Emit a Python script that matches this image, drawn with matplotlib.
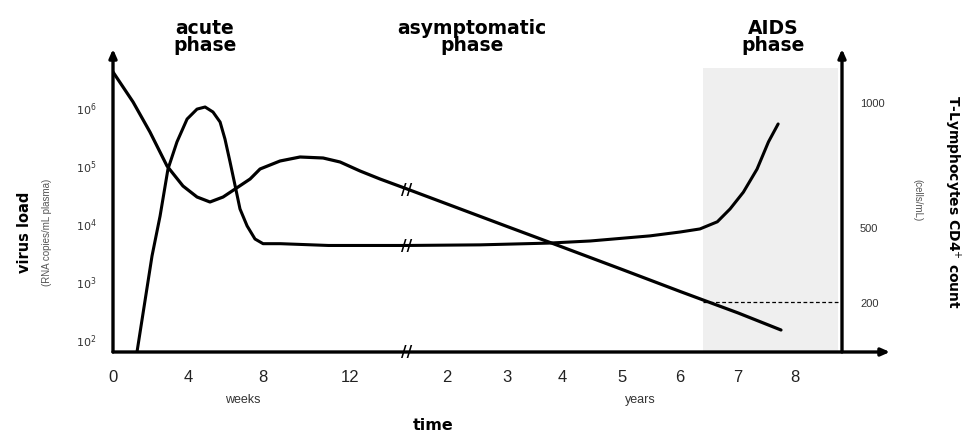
import numpy as np
import matplotlib
matplotlib.use("Agg")
import matplotlib.pyplot as plt
import matplotlib.transforms as mtransforms

plt.rcParams["font.family"] = ["Liberation Sans", "DejaVu Sans"]

# broken time axis: weeks 0-12, then years (all stored in weeks)
knot_weeks = [0, 4, 8, 12, 52, 104, 156, 208, 260, 312, 364, 416, 520]
knot_pos = [0, 75, 150, 237, 294, 334, 394, 449, 509, 567, 625, 682, 796]

week_ticks = [0, 4, 8, 12]
year_ticks = [2, 3, 4, 5, 6, 7, 8]

# virus load (RNA copies/mL plasma)
virus_weeks = [1.28, 2.08, 2.51, 2.93, 3.41, 3.95, 4.48, 4.91, 5.33, 5.71, 5.97,
               6.24, 6.51, 6.77, 7.15, 7.57, 8.0, 8.8, 11.0, 52]
virus_early = [60, 2700, 13200, 85000, 250000, 620000, 920000, 1000000, 820000,
               550000, 280000, 113000, 44000, 17500, 8900, 5300, 4400, 4400, 4100, 4100]
virus_years = [2.55, 3.75, 4.47, 5.48, 6.0, 6.34, 6.64, 6.86, 7.09, 7.33, 7.53, 7.7]
virus_late = [4200, 4500, 4900, 6000, 7000, 7900, 10500, 17500, 34000, 85000,
              250000, 510000]

# CD4+ T-lymphocytes (cells/mL)
cd4_weeks = [0, 1.07, 1.97, 2.88, 3.73, 4.48, 5.17, 5.87, 6.51, 7.31, 7.84, 8.78,
             9.7, 10.76, 11.54, 19, 33, 52]
cd4_early = [1120, 1000, 880, 744, 664, 620, 600, 620, 652, 692, 732, 764,
             780, 776, 760, 724, 692, 652]
cd4_years = [2, 3, 4, 5, 6, 7, 7.75]
cd4_late = [592, 502, 420, 330, 242, 156, 88]

aids_start, aids_end = 6.4, 8.75   # years
t_end = 8.82                       # years, right axis position


def fwd(t):
    return np.interp(t, knot_weeks, knot_pos)


def inv(p):
    return np.interp(p, knot_pos, knot_weeks)


virus_t = np.array(virus_weeks + [y * 52 for y in virus_years])
virus = np.array(virus_early + virus_late)
cd4_t = np.array(cd4_weeks + [y * 52 for y in cd4_years])
cd4 = np.array(cd4_early + cd4_late)

fig = plt.figure(figsize=(9.64, 4.39), dpi=100)
ax = fig.add_axes([113 / 964, 86 / 439, 729 / 964, 303 / 439])
ax.set_xscale("function", functions=(fwd, inv))
ax.set_yscale("log")
ax.set_xlim(0, t_end * 52)
ax.set_ylim(10 ** 1.776, 1e7)

ax2 = ax.twinx()
ax2.set_ylim(0, 1212)

ax.axvspan(aids_start * 52, aids_end * 52, ymin=0, ymax=0.937, color="#efefef", lw=0, zorder=0)

ax.plot(virus_t, virus, color="black", lw=2.2, solid_capstyle="round",
        solid_joinstyle="round")
ax2.plot(cd4_t, cd4, color="black", lw=2.3, solid_capstyle="round",
         solid_joinstyle="round")
ax2.hlines(200, aids_start * 52, t_end * 52, colors="black", linestyles=(0, (3, 2)), lw=0.9)

for a in (ax, ax2):
    for s in a.spines.values():
        s.set_visible(False)

# axis arrows
arr = dict(arrowstyle="-|>,head_length=0.5,head_width=0.22", lw=2.4, color="black",
           shrinkA=0, shrinkB=0)
ax.annotate("", xy=(0, 1), xytext=(0, 0), xycoords="axes fraction", arrowprops=arr,
            annotation_clip=False)
ax.annotate("", xy=(1, 1), xytext=(1, 0), xycoords="axes fraction", arrowprops=arr,
            annotation_clip=False)
ax.annotate("", xy=(1 + 48 / 729, 0), xytext=(0, 0), xycoords="axes fraction",
            arrowprops=arr, annotation_clip=False)

# break marks
bt = mtransforms.blended_transform_factory(ax.transData, ax.transAxes)
ax.text(52, 0, "//", transform=bt, ha="center", va="center", fontsize=11,
        fontweight="bold", family="DejaVu Sans")
ax.text(52, 4100, "//", ha="center", va="center", fontsize=11, fontweight="bold",
        family="DejaVu Sans")
ax2.text(52, 652, "//", ha="center", va="center", fontsize=11, fontweight="bold",
         family="DejaVu Sans")

# ticks
xt = week_ticks + [y * 52 for y in year_ticks]
ax.set_xticks(xt)
ax.set_xticklabels([str(v) for v in week_ticks + year_ticks])
ax.tick_params(axis="x", length=0, pad=12, labelsize=12, labelcolor="#222222")
ax.xaxis.set_minor_locator(matplotlib.ticker.NullLocator())
ax.set_yticks([1e2, 1e3, 1e4, 1e5, 1e6])
ax.set_yticklabels([r"$10^{%d}$" % k for k in range(2, 7)])
ax.yaxis.set_minor_locator(matplotlib.ticker.NullLocator())
ax.tick_params(axis="y", length=0, pad=12, labelsize=8, labelcolor="#333333")
ax2.set_yticks([1000, 500, 200])
ax2.tick_params(axis="y", length=0, pad=13, labelsize=8, labelcolor="#333333")

# phase titles
title_kw = dict(ha="center", va="center", fontsize=13.5, fontweight="black",
                family=["DejaVu Sans"], linespacing=0.85)
fig.text(205 / 964, 1 - 37 / 439, "acute\nphase", **title_kw)
fig.text(472 / 964, 1 - 37 / 439, "asymptomatic\nphase", **title_kw)
fig.text(773 / 964, 1 - 37 / 439, "AIDS\nphase", **title_kw)

# axis titles
bold_kw = dict(ha="center", va="center", fontweight="bold", family=["DejaVu Sans"])
fig.text(25 / 964, 1 - 232 / 439, "virus load", rotation=90, fontsize=10.5, **bold_kw)
fig.text(47 / 964, 1 - 232 / 439, "(RNA copies/mL plasma)", rotation=90, ha="center",
         va="center", fontsize=7, color="#555555")
fig.text(952 / 964, 1 - 202 / 439, "T-Lymphocytes CD4$^{+}$ count", rotation=270,
         fontsize=10, **bold_kw)
fig.text(917 / 964, 1 - 200 / 439, "(cells/mL)", rotation=270, ha="center", va="center",
         fontsize=7, color="#555555")
fig.text(243 / 964, 1 - 400 / 439, "weeks", ha="center", va="center", fontsize=9,
         color="#333333")
fig.text(640 / 964, 1 - 400 / 439, "years", ha="center", va="center", fontsize=9,
         color="#333333")
fig.text(433 / 964, 1 - 426 / 439, "time", fontsize=11.5, **bold_kw)

fig.savefig("out.png", dpi=100)
